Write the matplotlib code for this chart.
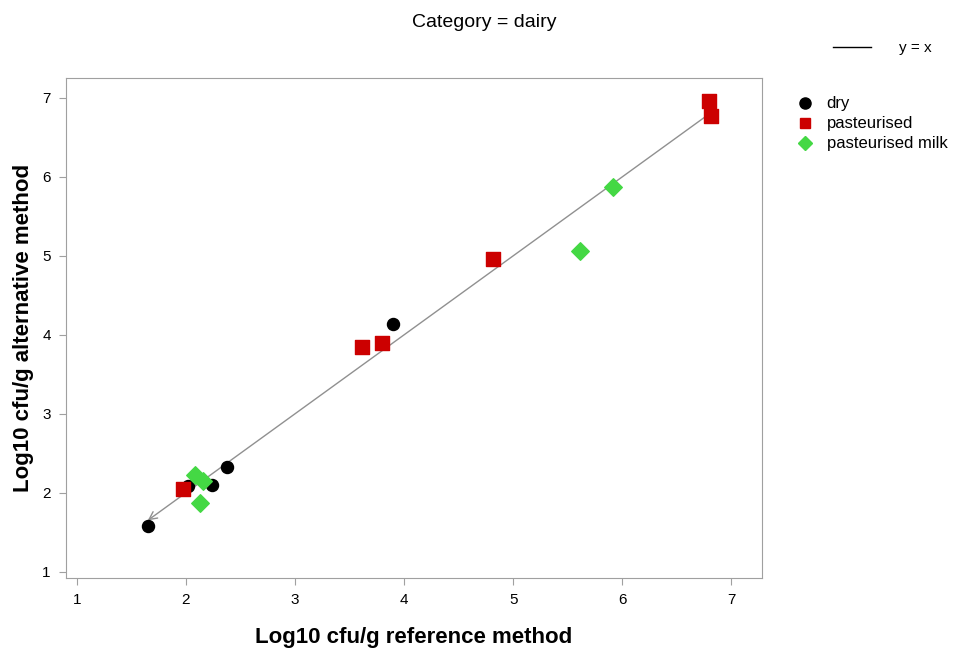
import numpy as np
import matplotlib.pyplot as plt
from matplotlib.lines import Line2D

plt.rcParams['font.family'] = ['Liberation Sans Narrow', 'Liberation Sans', 'DejaVu Sans']

# dry samples
dry_x = [1.65, 2.02, 2.24, 2.38, 3.90]
dry_y = [1.58, 2.08, 2.10, 2.33, 4.14]
# pasteurised
past_x = [1.97, 3.61, 3.80, 4.81, 6.79, 6.81]
past_y = [2.05, 3.84, 3.89, 4.96, 6.96, 6.77]
# pasteurised milk
milk_x = [2.08, 2.16, 2.13, 5.61, 5.91]
milk_y = [2.23, 2.15, 1.87, 5.06, 5.87]

# y = x line end points (min / max of data)
line_lo = 1.65
line_hi = 6.80

xticks = [1, 2, 3, 4, 5, 6, 7]
yticks = [1, 2, 3, 4, 5, 6, 7]

fig = plt.figure(figsize=(9.59, 6.51), dpi=100)
ax = fig.add_axes((0.0688, 0.1121, 0.7258, 0.768))

grey = "#a0a0a0"
ax.annotate("", xy=(line_lo, line_lo), xytext=(line_hi, line_hi),
            arrowprops=dict(arrowstyle="->", color="#909090", lw=1,
                            mutation_scale=14, shrinkA=0, shrinkB=0))

ax.scatter(dry_x, dry_y, s=75, marker="o", color="black", zorder=3)
ax.scatter(past_x, past_y, s=90, marker="s", color="#cc0000", zorder=3)
ax.scatter(milk_x, milk_y, s=80, marker="D", color="#44d844", zorder=3)

ax.set_xlim(0.9, 7.28)
ax.set_ylim(0.92, 7.25)
ax.set_xticks(xticks)
ax.set_yticks(yticks)
for s in ax.spines.values():
    s.set_color(grey)
ax.tick_params(colors=grey, labelcolor="black", labelsize=11, length=5, pad=6)

ax.set_xlabel("Log10 cfu/g reference method", fontsize=16, fontweight="bold", labelpad=14)
ax.set_ylabel("Log10 cfu/g alternative method", fontsize=16, fontweight="bold", labelpad=6)

fig.text(0.505, 0.966, "Category = dairy", ha="center", va="center", fontsize=14)

# legends
h_line = [Line2D([0], [0], color="black", lw=1)]
fig.legend(h_line, ["y = x"], loc="center", bbox_to_anchor=(0.92, 0.926),
           frameon=False, fontsize=11, handlelength=2.5, handletextpad=1.8)
h_pts = [Line2D([0], [0], marker="o", ls="", color="black", markersize=8),
         Line2D([0], [0], marker="s", ls="", color="#cc0000", markersize=7),
         Line2D([0], [0], marker="D", ls="", color="#44d844", markersize=7)]
fig.legend(h_pts, ["dry", "pasteurised", "pasteurised milk"], loc="upper left",
           bbox_to_anchor=(0.815, 0.875), frameon=False, fontsize=12,
           handlelength=1.0, handletextpad=0.8, labelspacing=0.3)

fig.savefig("out.png", dpi=100)
